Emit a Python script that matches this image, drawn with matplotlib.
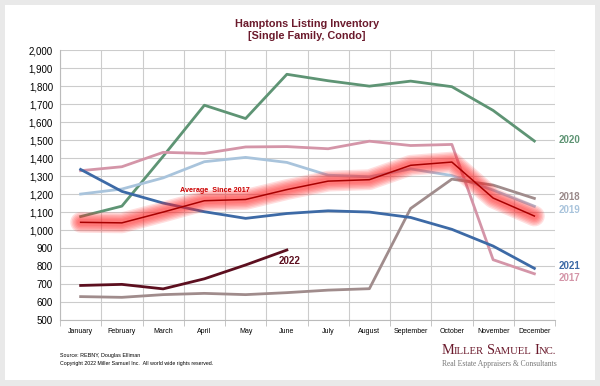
import matplotlib
matplotlib.use('Agg')
import matplotlib.pyplot as plt
from matplotlib.patches import Rectangle
import numpy as np

months = ['January', 'February', 'March', 'April', 'May', 'June', 'July',
          'August', 'September', 'October', 'November', 'December']

y2017 = [1330, 1352, 1432, 1426, 1462, 1464, 1452, 1494, 1470, 1476, 835, 757]
y2018 = [630, 626, 641, 648, 641, 652, 666, 674, 1120, 1283, 1250, 1176]
y2019 = [1200, 1228, 1290, 1380, 1404, 1376, 1305, 1296, 1340, 1303, 1222, 1132]
y2020 = [1075, 1133, 1410, 1694, 1620, 1866, 1830, 1800, 1828, 1797, 1665, 1495]
y2021 = [1337, 1215, 1150, 1102, 1065, 1092, 1107, 1100, 1070, 1004, 911, 787]
y2022 = [692, 698, 673, 729, 806, 889]
avg = [1043, 1040, 1100, 1163, 1170, 1225, 1272, 1280, 1360, 1378, 1178, 1078]

plt.rcParams['font.family'] = ['Liberation Sans', 'DejaVu Sans']

fig = plt.figure(figsize=(6, 3.86), dpi=100)
fig.patch.set_facecolor('#e9e9e9')
fig.patches.append(Rectangle((0.009, 0.016), 0.983, 0.971, transform=fig.transFigure,
                             facecolor='white', edgecolor='none', zorder=-5))

ax = fig.add_axes([0.1, 0.171, 0.825, 0.699])
ax.set_facecolor('none')

lw = 2.0
x = np.arange(12)
ax.plot(x, y2020, color='#5e9474', lw=lw, solid_joinstyle='round')
ax.plot(x, y2017, color='#d495a8', lw=lw, solid_joinstyle='round')
ax.plot(x, y2019, color='#a9c4dc', lw=lw, solid_joinstyle='round')
ax.plot(x, y2018, color='#a08c8c', lw=lw, solid_joinstyle='round')
ax.plot(x, y2021, color='#3d6aa6', lw=lw, solid_joinstyle='round')
ax.plot(x[:len(y2022)], y2022, color='#5c0f1f', lw=lw, solid_joinstyle='round')

# soft glow for the average line
for w in [15, 13, 11, 9, 7, 5]:
    ax.plot(x, avg, color='#ff2020', lw=w, alpha=0.14, solid_capstyle='round',
            solid_joinstyle='round')
ax.plot(x, avg, color='#a80000', lw=1.1, solid_joinstyle='round')

ax.set_xlim(-0.5, 11.5)
ax.set_ylim(500, 2000)
ax.set_yticks(np.arange(500, 2001, 100))
ax.set_yticklabels([f'{v:,}' for v in range(500, 2001, 100)], fontsize=7)
ax.set_xticks(x)
ax.set_xticklabels(months, fontsize=5)
ax.set_xticks(np.arange(-0.5, 12, 1), minor=True)
ax.tick_params(axis='x', which='major', length=0, pad=6)
ax.tick_params(axis='x', which='minor', length=4, color='#bbbbbb')
ax.tick_params(axis='y', length=0, pad=5)
ax.grid(False)
ax.grid(True, axis='y', color='#cccccc', lw=0.8)
ax.grid(True, axis='x', which='minor', color='#cccccc', lw=0.8)
ax.set_axisbelow(True)
for s in ['top', 'right']:
    ax.spines[s].set_visible(False)
for s in ['left', 'bottom']:
    ax.spines[s].set_color('#bbbbbb')

fig.text(0.512, 1 - 30 / 386, 'Hamptons Listing Inventory\n[Single Family, Condo]',
         ha='center', va='center', fontsize=7.8, fontweight='bold', color='#6b1a2c',
         linespacing=1.3)

lab = dict(fontsize=7, fontweight='bold', transform=fig.transFigure, va='center')
fig.text(0.931, 1 - 140 / 386, '2020', color='#5e9474', **lab)
fig.text(0.931, 1 - 197 / 386, '2018', color='#9a8a8a', **lab)
fig.text(0.931, 1 - 210 / 386, '2019', color='#a9c4dc', **lab)
fig.text(0.931, 1 - 266 / 386, '2021', color='#3d6aa6', **lab)
fig.text(0.931, 1 - 278 / 386, '2017', color='#d495a8', **lab)
fig.text(0.465, 1 - 261 / 386, '2022', color='#5c0f1f', **lab)
fig.text(0.30, 1 - 191 / 386, 'Average  Since 2017', color='#cc0000',
         fontsize=5.2, fontweight='bold', va='center')

fig.text(0.1, 1 - 355 / 386, 'Source: REBNY, Douglas Elliman', fontsize=3.9, va='center')
fig.text(0.1, 1 - 363 / 386, 'Copyright 2022 Miller Samuel Inc.  All world wide rights reserved.',
         fontsize=3.8, va='center')

# small-caps logo built from pieces
fig.canvas.draw()
r = fig.canvas.get_renderer()
px = 442
for txt, size, gap in [('M', 10.4, 0), ('ILLER', 7.7, 4), ('S', 10.4, 0),
                       ('AMUEL', 7.7, 4), ('I', 10.4, 0), ('NC.', 7.7, 0)]:
    t = fig.text(px / 600, 1 - 354 / 386, txt, family='Liberation Serif',
                 fontsize=size, color='#6b1a2c', va='baseline')
    px += t.get_window_extent(r).width - 1 + gap
fig.text(442 / 600, 1 - 364 / 386, 'Real Estate Appraisers & Consultants',
         family='Liberation Serif', fontsize=5.5, color='#777777', va='center')

fig.savefig('out.png', dpi=100, facecolor=fig.get_facecolor())
